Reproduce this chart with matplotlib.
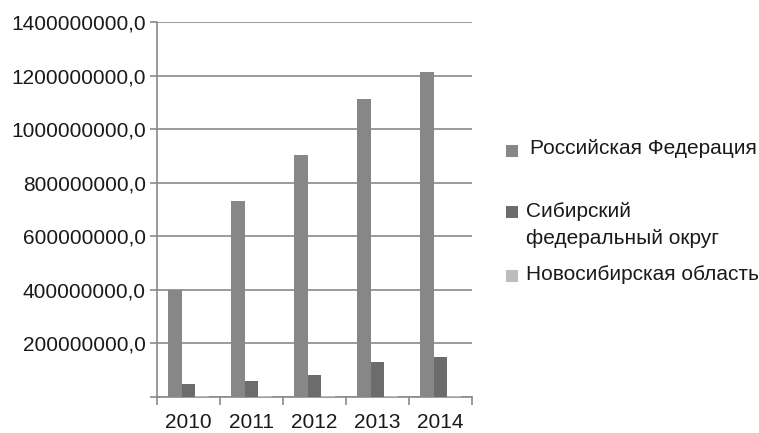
import matplotlib
matplotlib.use('Agg')
import matplotlib.pyplot as plt
import numpy as np
from matplotlib.patches import Rectangle
from matplotlib.ticker import FuncFormatter, FixedLocator

plt.rcParams['font.family'] = ['Liberation Sans', 'DejaVu Sans']

# Years and series values
years = ['2010', '2011', '2012', '2013', '2014']
rf_values = [398e6, 732e6, 902e6, 1113e6, 1214e6]
sfo_values = [47e6, 58e6, 82e6, 129e6, 147e6]
nso_values = [1.5e6, 1.5e6, 1.5e6, 2e6, 2e6]

series_names = ['Российская Федерация', 'Сибирский\nфедеральный округ', 'Новосибирская область']
series_colors = ['#878787', '#6c6c6c', '#bcbcbc']
grid_color = '#8a8a8a'
text_color = '#1a1a1a'
fs = 15

fig = plt.figure(figsize=(7.59, 4.33), dpi=100)
ax = fig.add_axes([157 / 759, 1 - 396.5 / 433, 315 / 759, (396.5 - 22) / 433])

x = np.arange(len(years))
width = 0.222
for i, (vals, col) in enumerate(zip([rf_values, sfo_values, nso_values], series_colors)):
    ax.bar(x + (i - 1) * width, vals, width, color=col, zorder=3, linewidth=0)

ax.set_xlim(-0.5, len(years) - 0.5)
ax.set_ylim(0, 1.4e9)

# y axis: ticks every 200M, no label at zero
ax.set_yticks(np.arange(0, 1.4e9 + 1, 2e8))
ax.yaxis.set_major_formatter(FuncFormatter(lambda v, p: '' if v == 0 else f'{v:.1f}'.replace('.', ',')))
ax.grid(axis='y', color=grid_color, linewidth=1.2, zorder=0)
ax.tick_params(axis='y', length=5, width=1.2, color=grid_color, pad=3,
               labelsize=fs, labelcolor=text_color)

# x axis: labels at centers, tick marks on category boundaries
ax.set_xticks(x)
ax.set_xticklabels(years)
ax.tick_params(axis='x', length=0, pad=12, labelsize=fs, labelcolor=text_color)
ax.xaxis.set_minor_locator(FixedLocator(np.arange(-0.5, len(years), 1.0)))
ax.tick_params(axis='x', which='minor', length=6, width=1.2, color=grid_color)

for side in ['top', 'right']:
    ax.spines[side].set_visible(False)
ax.spines['left'].set_color(grid_color)
ax.spines['left'].set_linewidth(1.2)
ax.spines['bottom'].set_color(grid_color)
ax.spines['bottom'].set_linewidth(1.2)

# legend drawn by hand on the right side
W, H = 759, 433
legend_rows = [(149, 530), (225, 526), (275, 526)]
marker_y = [151, 212, 276]
for name, col, (ty, tx), my in zip(series_names, series_colors, legend_rows, marker_y):
    fig.patches.append(Rectangle((506 / W, 1 - (my + 6) / H), 12 / W, 12 / H,
                                 transform=fig.transFigure, facecolor=col, edgecolor='none'))
    fig.text(tx / W, 1 - ty / H, name, fontsize=fs, va='center', ha='left',
             linespacing=1.55, color=text_color)

fig.savefig('out.png', dpi=100)
